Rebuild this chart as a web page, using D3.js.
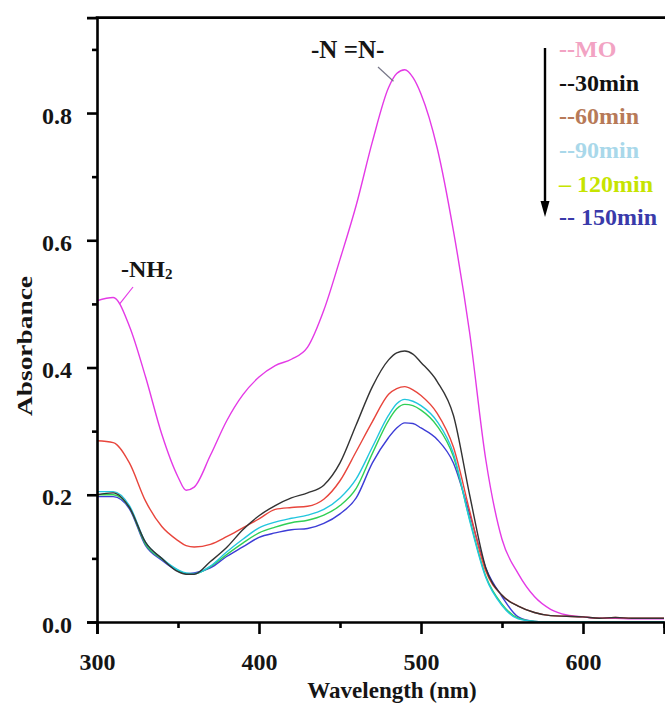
<!DOCTYPE html>
<html>
<head>
<meta charset="utf-8">
<script src="https://cdn.jsdelivr.net/npm/d3@7"></script>
<style>
  html, body { margin: 0; padding: 0; background: #fff; }
  svg text { font-family: "Liberation Serif", "Times New Roman", serif; font-weight: bold; }
</style>
</head>
<body>
<svg id="chart" width="665" height="711"></svg>
<script>
const wavelengths = [300,310,320,330,340,350,355,360,370,380,390,400,410,420,430,440,450,460,470,480,485,490,495,500,510,520,530,540,550,560,570,580,590,600,610,620,630,640,650];

const moValues    = [.505,.51,.465,.385,.295,.228,.207,.212,.262,.316,.357,.385,.403,.413,.432,.49,.57,.655,.755,.84,.862,.868,.856,.83,.745,.615,.455,.255,.13,.076,.04,.02,.011,.008,.006,.006,.005,.005,.005];
const min30Values = [.2,.203,.18,.125,.1,.079,.075,.075,.095,.117,.145,.167,.183,.195,.203,.215,.25,.31,.37,.412,.423,.426,.421,.408,.378,.325,.2,.085,.042,.025,.015,.01,.009,.008,.006,.007,.006,.006,.006];
const min60Values = [.285,.282,.25,.19,.15,.128,.12,.118,.122,.134,.148,.162,.177,.18,.182,.193,.222,.268,.315,.358,.367,.37,.365,.356,.328,.275,.175,.08,.042,.025,.015,.01,.009,.008,.006,.007,.006,.006,.006];
const min90Values = [.205,.205,.183,.125,.1,.082,.077,.076,.088,.11,.13,.148,.157,.163,.168,.177,.195,.225,.275,.325,.343,.35,.347,.34,.315,.265,.16,.07,.026,.005,.001,0,0,0,0,0,0,0,0];
const min120Values= [.2,.2,.18,.122,.099,.081,.076,.076,.087,.106,.124,.14,.149,.156,.16,.168,.183,.21,.265,.317,.335,.342,.34,.333,.308,.26,.162,.072,.028,.006,.001,0,0,0,0,0,0,0,0];
const min150Values= [.197,.197,.178,.12,.097,.08,.076,.077,.085,.103,.118,.133,.14,.145,.147,.155,.17,.195,.25,.29,.305,.313,.312,.305,.287,.25,.17,.085,.04,.008,.001,0,0,0,0,0,0,0,0];

const seriesNames  = ["MO","30min","60min","90min","120min","150min"];
const lineColors   = ["#e43ae6","#333333","#e8453c","#22c6de","#30cf55","#3c3cd6"];
const legendLabels = ["--MO","--30min","--60min","--90min","\u2013 120min","-- 150min"];
const legendColors = ["#f2a3c3","#111111","#b77a58","#a9d8ea","#c6e400","#3a3aaa"];

const xTicks = [300,400,500,600];
const xMinorTicks = [350,450,550,650];
const yTicks = [0,0.2,0.4,0.6,0.8];
const yMinorTicks = [0.1,0.3,0.5,0.7,0.9];

const xTitle = "Wavelength (nm)";
const yTitle = "Absorbance";

const svg = d3.select("#chart");
const x = d3.scaleLinear().domain([300,650]).range([97,664]);
const y = d3.scaleLinear().domain([0,0.95]).range([622,17.6]);

const allSeries = [moValues,min30Values,min60Values,min90Values,min120Values,min150Values];
const line = d3.line().x(d => x(d[0])).y(d => y(d[1])).curve(d3.curveMonotoneX);

const order = [0,5,4,3,2,1];
order.forEach(i => {
  const pts = wavelengths.map((w,j) => [w, allSeries[i][j]]);
  svg.append("path").datum(pts)
    .attr("d", line)
    .attr("fill","none")
    .attr("stroke", lineColors[i])
    .attr("stroke-width", 1.4);
});

// axes
const xAxisG = svg.append("g").attr("transform","translate(0,622)")
  .call(d3.axisBottom(x).tickValues(xTicks).tickSize(12).tickFormat(d3.format("d")));
const xMinorG = svg.append("g").attr("transform","translate(0,622)")
  .call(d3.axisBottom(x).tickValues(xMinorTicks).tickSize(6).tickFormat(""));
const yAxisG = svg.append("g").attr("transform","translate(97,0)")
  .call(d3.axisLeft(y).tickValues(yTicks).tickSize(10).tickFormat(d3.format(".1f")));
const yMinorG = svg.append("g").attr("transform","translate(97,0)")
  .call(d3.axisLeft(y).tickValues(yMinorTicks).tickSize(5).tickFormat(""));

[xAxisG,xMinorG,yAxisG,yMinorG].forEach(g => {
  g.select(".domain").attr("stroke","#000").attr("stroke-width",2.6);
  g.selectAll(".tick line").attr("stroke","#000").attr("stroke-width",2.6);
});
xMinorG.select(".domain").remove();
yMinorG.select(".domain").remove();
xAxisG.selectAll(".tick text").attr("font-size",24).attr("fill","#151515").attr("y",31).attr("dy","0.71em")
  .style("font-family","'Liberation Serif', serif").style("font-weight","bold");
yAxisG.selectAll(".tick text").attr("font-size",24).attr("fill","#151515").attr("x",-25).attr("dy","0.42em")
  .style("font-family","'Liberation Serif', serif").style("font-weight","bold");

// top border
svg.append("line").attr("x1",x(300)-1.3).attr("x2",665).attr("y1",y(0.95)).attr("y2",y(0.95))
  .attr("stroke","#000").attr("stroke-width",2.6);

// axis titles
svg.append("text").attr("x",392).attr("y",698).attr("text-anchor","middle")
  .attr("font-size",23).attr("fill","#151515").text(xTitle);
svg.append("text").attr("transform","translate(32,346) rotate(-90)").attr("text-anchor","middle")
  .attr("font-size",22).attr("textLength",140).attr("lengthAdjust","spacingAndGlyphs")
  .attr("fill","#151515").text(yTitle);

// annotations
svg.append("text").attr("x",311).attr("y",58).attr("font-size",25).attr("fill","#151515").text("-N =N-");
svg.append("line").attr("x1",378).attr("y1",67).attr("x2",x(483)).attr("y2",y(0.85))
  .attr("stroke","#778").attr("stroke-width",1.2);
const nh = svg.append("text").attr("x",121).attr("y",277).attr("font-size",24).attr("fill","#151515");
nh.append("tspan").text("-NH");
nh.append("tspan").attr("font-size",15).attr("dy",2).text("2");
svg.append("line").attr("x1",133).attr("y1",287).attr("x2",x(314)).attr("y2",y(0.5))
  .attr("stroke","#e43ae6").attr("stroke-width",1.2);

// legend
const legendBaselines = [57,91,124,158,192,225];
legendLabels.forEach((t,i) => {
  svg.append("text").attr("x",559).attr("y",legendBaselines[i])
    .attr("font-size",24).attr("fill",legendColors[i]).text(t);
});
svg.append("line").attr("x1",545).attr("x2",545).attr("y1",48).attr("y2",205)
  .attr("stroke","#000").attr("stroke-width",2.4);
svg.append("path").attr("d","M540.5,201 L549.5,201 L545,217 Z").attr("fill","#000");
</script>
</body>
</html>
